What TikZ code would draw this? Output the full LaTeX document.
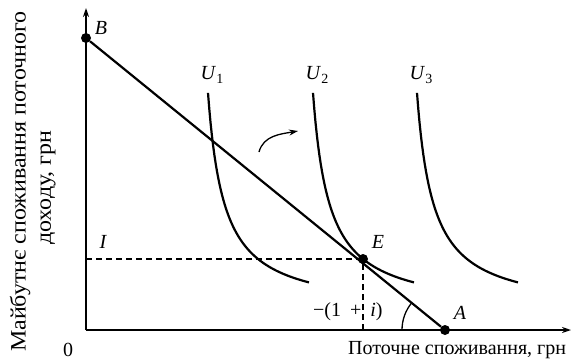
\documentclass[tikz,border=0pt]{standalone}
\usepackage{fontspec}
\setmainfont{Liberation Serif}
\usetikzlibrary{arrows.meta}
\begin{document}
\begin{tikzpicture}[x=1pt,y=1pt,
  lbl/.style={font=\fontsize{20}{23}\selectfont, inner sep=0pt},
  ilbl/.style={font=\fontsize{20}{23}\selectfont\itshape, inner sep=0pt},
  ylbl/.style={font=\fontsize{22}{25}\selectfont, inner sep=0pt, rotate=90},
  axis/.style={line width=1.6pt, -{Stealth[length=9pt,width=6pt]}},
  curve/.style={line width=2.2pt},
  dashline/.style={line width=1.3pt, dash pattern=on 6pt off 4pt},
  dot/.style={circle, fill=black, inner sep=0pt, minimum size=10pt}]
\useasboundingbox (0,0) rectangle (572,360);
% axes
\coordinate (O) at (86,30);
\coordinate (ytop) at (86,352);
\coordinate (xend) at (571,30);
\draw[axis] (O) -- (ytop);
\draw[axis] (O) -- (xend);
% points
\node[dot] (B) at (86,322) {};
\node[dot] (E) at (363,101) {};
\node[dot] (A) at (445,30) {};
\coordinate (Iy) at (86,101);
\coordinate (Ex) at (363,30);
% indifference curves
\draw[curve] plot[domain=208:309, samples=80] (\x, {47.2+3563/(\x+105-296.8)});
\draw[curve] plot[domain=313:414, samples=80] (\x, {47.2+3563/(\x-296.8)});
\draw[curve] plot[domain=417:518, samples=80] (\x, {47.2+3563/(\x-104-296.8)});
% budget line
\draw[line width=2.2pt] (B) -- (A);
% dashed
\draw[dashline] (Iy) -- (E) -- (Ex);
% angle arc
\draw[line width=1.3pt] ([shift={(180:43)}]A) arc[start angle=180, end angle=141, radius=43];
% curved arrow
\coordinate (cs) at (259,208);
\coordinate (ce) at (298,229);
\draw[line width=1.3pt, -{Stealth[length=9pt,width=6pt]}] (cs) to[out=75, in=190] (ce);
% labels
\node[ilbl] (lB) at (101,332) {B};
\node[ilbl] (lI) at (103,118) {I};
\node[ilbl] (lE) at (378,118) {E};
\node[ilbl] (lA) at (460,47) {A};
\node[lbl] (lU1) at (212,285) {\textit{U}\raisebox{-4pt}{\fontsize{14}{14}\selectfont 1}};
\node[lbl] (lU2) at (317,285) {\textit{U}\raisebox{-4pt}{\fontsize{14}{14}\selectfont 2}};
\node[lbl] (lU3) at (421,285) {\textit{U}\raisebox{-4pt}{\fontsize{14}{14}\selectfont 3}};
\node[lbl, anchor=west] (slope) at (313,48) {−(1\hspace{9pt}+\hspace{9pt}\textit{i})};
\node[lbl] (zero) at (68,10) {0};
\node[lbl, anchor=west] (xl) at (348,10) {Поточне споживання, грн};
\node[ylbl, anchor=west] (yl1) at (20,8) {\scalebox{1.09}[1]{Майбутнє споживання поточного}};
\node[ylbl, anchor=west] (yl2) at (48,115) {\scalebox{1.09}[1]{доходу, грн}};
\end{tikzpicture}
\end{document}
